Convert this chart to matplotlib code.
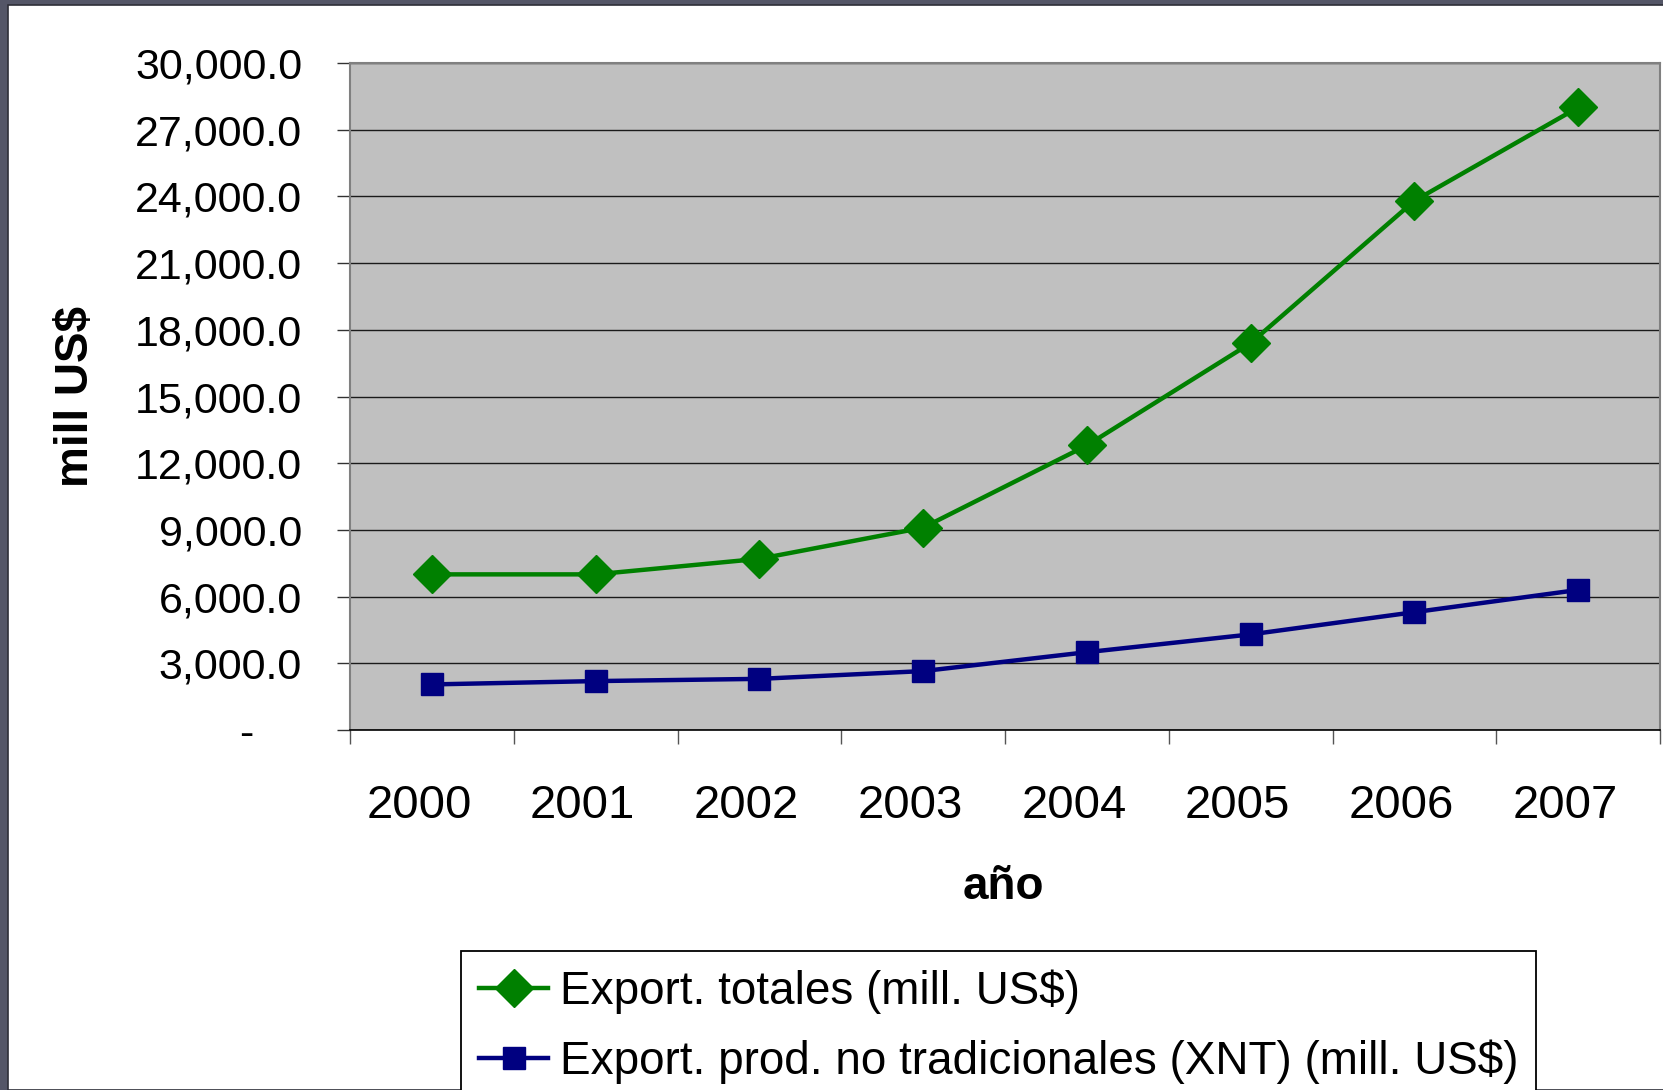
import matplotlib
matplotlib.use('Agg')
import matplotlib.pyplot as plt
from matplotlib.ticker import FuncFormatter, FixedLocator
from matplotlib.transforms import ScaledTranslation
from matplotlib.patches import Rectangle

# Data (mill. US$)
years = ['2000', '2001', '2002', '2003', '2004', '2005', '2006', '2007']
export_totales = [7000, 7000, 7700, 9100, 12800, 17400, 23800, 28000]
export_xnt = [2050, 2200, 2300, 2650, 3500, 4300, 5300, 6300]
y_ticks = [0, 3000, 6000, 9000, 12000, 15000, 18000, 21000, 24000, 27000, 30000]

plt.rcParams['font.family'] = ['Liberation Sans', 'DejaVu Sans']

W, H = 1663, 1090
fig = plt.figure(figsize=(W / 100, H / 100), dpi=100)
fig.patch.set_facecolor('#545667')

# White slide panel (dark strip left and top)
fig.patches.append(Rectangle((8 / W, 0), 1, 1 - 5 / H, transform=fig.transFigure,
                             facecolor='white', edgecolor='#2e2f38', linewidth=1.2, zorder=-10))

ax = fig.add_axes([350 / W, 1 - 730 / H, 1310 / W, 667 / H])
ax.set_facecolor('#c0c0c0')

x = list(range(len(years)))
ax.plot(x, export_totales, color='#008000', linewidth=3.2, marker='D', markersize=19,
        label='Export. totales (mill. US$)', zorder=3)
ax.plot(x, export_xnt, color='#000080', linewidth=3.2, marker='s', markersize=16,
        label='Export. prod. no tradicionales (XNT) (mill. US$)', zorder=3)

ax.set_xlim(-0.5, len(years) - 0.5)
ax.set_ylim(0, 30000)

# y axis
ax.set_yticks(y_ticks)
ax.yaxis.set_major_formatter(FuncFormatter(lambda v, p: '-    ' if v == 0 else f'{v:,.1f}'))
ax.tick_params(axis='y', direction='out', length=9.5, width=1, pad=25, labelsize=31, color='#333333')
ax.grid(axis='y', color='#1a1a1a', linewidth=1)
ax.set_axisbelow(True)

# x axis: labels at category centres, ticks at boundaries
ax.set_xticks(x)
ax.set_xticklabels(years)
ax.xaxis.set_minor_locator(FixedLocator([i - 0.5 for i in range(len(years) + 1)]))
ax.tick_params(axis='x', which='major', length=0, pad=39, labelsize=34)
ax.tick_params(axis='x', which='minor', direction='out', length=10, width=1, color='#555555')
for lbl in ax.get_xticklabels():
    lbl.set_transform(lbl.get_transform() + ScaledTranslation(-0.13, 0, fig.dpi_scale_trans))

for side in ['left', 'top', 'right']:
    ax.spines[side].set_color('#808080')
    ax.spines[side].set_linewidth(1.5)
ax.spines['bottom'].set_color('black')
ax.spines['bottom'].set_linewidth(1.2)

ax.set_xlabel('año', fontsize=33, fontweight='bold')
ax.xaxis.set_label_coords(0.4985, -0.236)
ax.xaxis.label.set_va('center')
ax.set_ylabel('mill US$', fontsize=33, fontweight='bold')
ax.yaxis.set_label_coords(-0.2095, 0.5)
ax.yaxis.label.set_va('center')

leg = ax.legend(loc='upper left', bbox_to_anchor=(461 / W, 1 - 951 / H),
                bbox_transform=fig.transFigure, fontsize=33, frameon=True,
                fancybox=False, framealpha=1, edgecolor='black',
                handlelength=1.5, handletextpad=0.25, borderpad=0.4,
                labelspacing=0.55, borderaxespad=0)
leg.get_frame().set_linewidth(1.3)

fig.savefig('out.png', dpi=100)
